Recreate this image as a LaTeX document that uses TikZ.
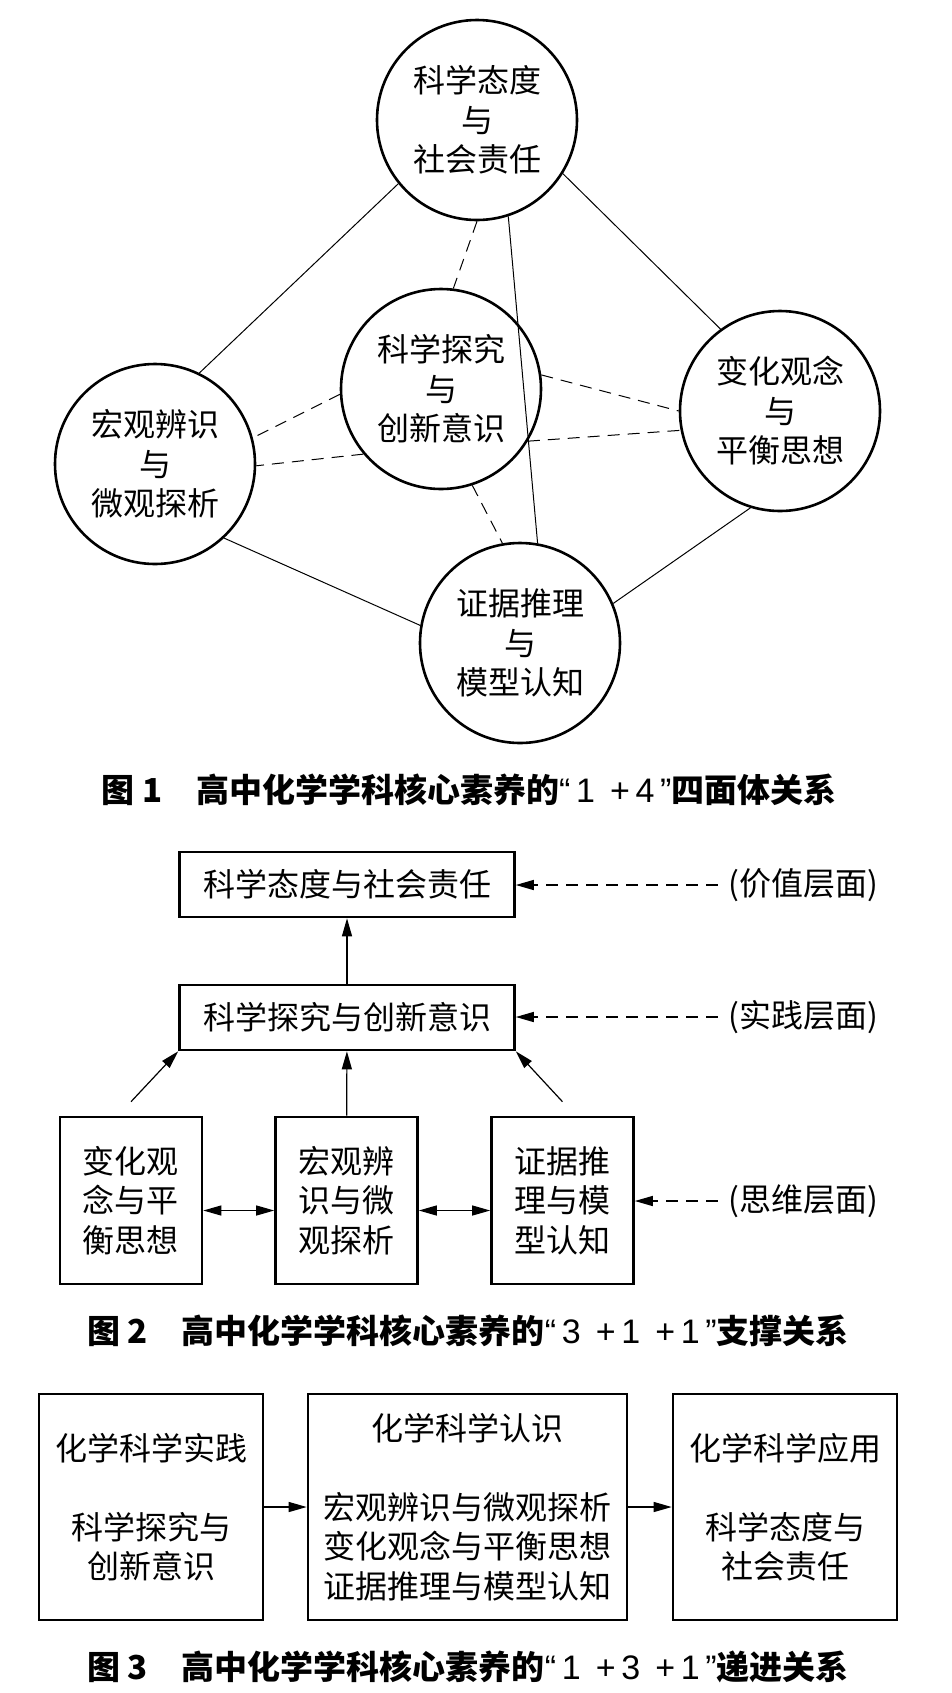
\documentclass[tikz,border=0pt]{standalone}
\usepackage{fontspec}
\setmainfont{Noto Sans CJK SC}
\newfontfamily\latinpart{Liberation Sans}
\usetikzlibrary{arrows.meta, calc, positioning}
\tikzset{
    core/.style={draw, circle, line width=1.3pt, minimum size=100pt, inner sep=0pt, align=center, font=\fontsize{16}{19.75}\selectfont},
    layerbox/.style={draw, rectangle, line width=1.3pt, inner sep=0pt, align=center, font=\fontsize{16}{19.75}\selectfont},
    layername/.style={inner sep=5pt, font=\fontsize{16}{20}\selectfont},
    figcaption/.style={inner sep=0pt, font=\fontsize{16.5}{20}\selectfont\bfseries},
    link/.style={line width=0.5pt},
    dlink/.style={line width=0.5pt, dash pattern=on 6pt off 4pt},
    arr/.style={line width=0.6pt, -{Triangle[length=9pt, width=5pt]}},
    darr/.style={line width=0.7pt, dash pattern=on 6pt off 4pt, -{Triangle[length=9pt, width=5pt]}},
    dbl/.style={line width=0.6pt, {Triangle[length=9pt, width=5pt]}-{Triangle[length=9pt, width=5pt]}}
}
\newcommand{\core}[3]{
    \node[core] (#1) at (#2) {#3};
}
\newcommand{\flatbox}[5]{
    \node[layerbox, minimum width=#3, minimum height=#4] (#1) at (#2) {#5};
}
\newcommand{\layer}[3]{
    \node[layername] (#1) at (#2) {#3};
}
\newcommand{\quoted}[1]{{\latinpart\mdseries\fontsize{17}{20}\selectfont “\,#1\,”}}
\begin{document}
\begin{tikzpicture}[x=0.5pt, y=-0.5pt]
                    \useasboundingbox (0, 0) rectangle (952, 1693);
                    \core{sr}{477, 120}{科学态度\\与\\社会责任}
                    \core{si}{441, 389}{科学探究\\与\\创新意识}
                    \core{mm}{155, 464}{宏观辨识\\与\\微观探析}
                    \core{cb}{780, 411}{变化观念\\与\\平衡思想}
                    \core{em}{520, 643}{证据推理\\与\\模型认知}
                    \draw[link]
                    (sr.219) -- (mm.64)
                    (sr.-32) -- (cb.126)
                    (sr.-72) -- (em.80)
                    (mm.-47) -- (em.170)
                    (cb.-107) -- (em.23);
                    \draw[dlink]
                    (sr.-90) -- (si.83)
                    (si.-72) -- (em.100)
                    (si.183) -- (mm.15)
                    (si.220) -- (mm.-1)
                    (si.8) -- (cb.180)
                    (si.-31) -- (cb.191);
                    \node[figcaption] (cap1) at (469, 790) {图 1\hspace{17pt}高中化学学科核心素养的\quoted{1 \,+\,4}四面体关系};
                    \flatbox{value}{347, 884.5}{167.5pt}{32.5pt}{科学态度与社会责任}
                    \flatbox{practice}{347, 1017.5}{167.5pt}{32.5pt}{科学探究与创新意识}
                    \flatbox{cbbox}{131, 1200.5}{71pt}{83.5pt}{变化观\\念与平\\衡思想}
                    \flatbox{mmbox}{346.5, 1200.5}{71pt}{83.5pt}{宏观辨\\识与微\\观探析}
                    \flatbox{embox}{562.5, 1200.5}{71pt}{83.5pt}{证据推\\理与模\\型认知}
                    \layer{valuetag}{803, 885}{(价值层面)}
                    \layer{practicetag}{803, 1017}{(实践层面)}
                    \layer{thinktag}{803, 1201}{(思维层面)}
                    \coordinate (cbtop) at ($(cbbox.north)+(0, -14)$);
                    \coordinate (emtop) at ($(embox.north)+(0, -14)$);
                    \draw[arr] (practice) -- (value);
                    \draw[arr] (mmbox) -- (practice);
                    \draw[arr] (cbtop) -- (practice.south west);
                    \draw[arr] (emtop) -- (practice.south east);
                    \draw[dbl] ([yshift=-5pt]cbbox.east) -- ([yshift=-5pt]mmbox.west);
                    \draw[dbl] ([yshift=-5pt]mmbox.east) -- ([yshift=-5pt]embox.west);
                    \draw[darr] (valuetag.west) -- (valuetag.west -| value.east);
                    \draw[darr] (practicetag.west) -- (practicetag.west -| practice.east);
                    \draw[darr] (thinktag.west) -- (thinktag.west -| embox.east);
                    \node[figcaption] (cap2) at (468, 1331) {图 2\hspace{17pt}高中化学学科核心素养的\quoted{3 \,+\,1 \,+\,1}支撑关系};
                    \flatbox{practise}{151, 1507}{112pt}{113pt}{化学科学实践\\[19.75pt]科学探究与\\创新意识}
                    \flatbox{know}{467.5, 1507}{159.5pt}{113pt}{化学科学认识\\[19.75pt]宏观辨识与微观探析\\变化观念与平衡思想\\证据推理与模型认知}
                    \flatbox{apply}{785, 1507}{112pt}{113pt}{化学科学应用\\[19.75pt]科学态度与\\社会责任}
                    \draw[arr] (practise) -- (know);
                    \draw[arr] (know) -- (apply);
                    \node[figcaption] (cap3) at (468, 1667) {图 3\hspace{17pt}高中化学学科核心素养的\quoted{1 \,+\,3 \,+\,1}递进关系};
                \end{tikzpicture}
\end{document}
